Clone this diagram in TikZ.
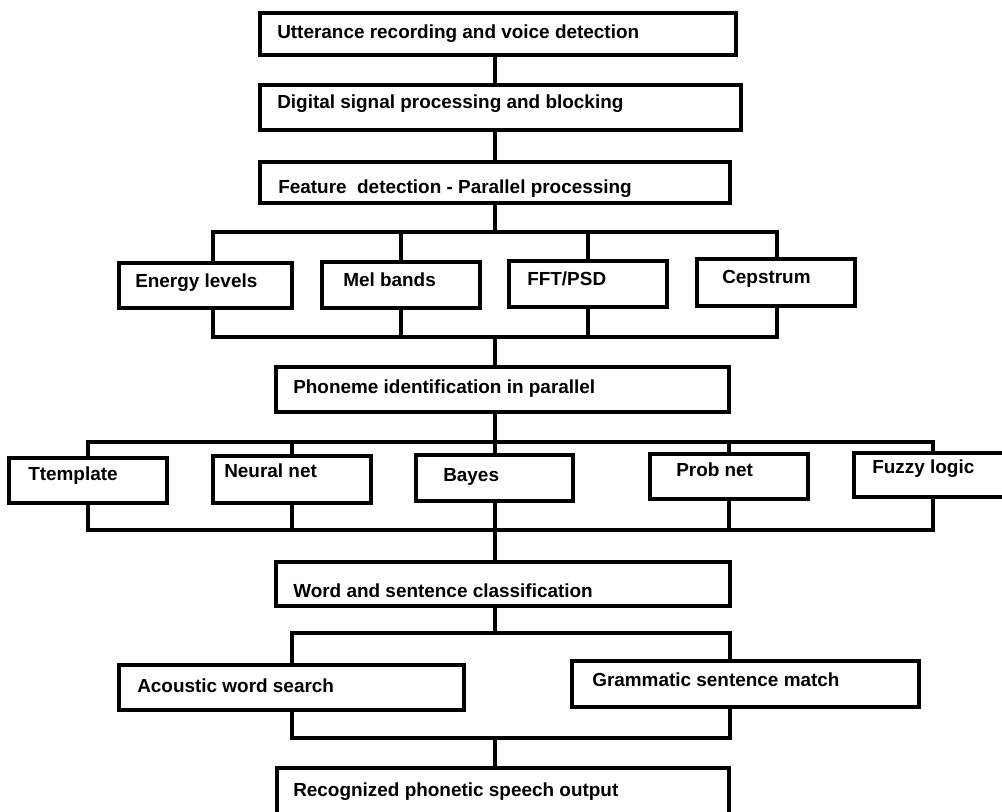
\documentclass[tikz,border=0pt]{standalone}
\usepackage{fontspec}
\setmainfont{Liberation Sans}
\usetikzlibrary{fit}

\tikzset{
  box/.style={draw, line width=2.3pt, fill=white, inner sep=0pt, rectangle},
  lbl/.style={anchor=base west, inner sep=0pt,
              font=\fontsize{14.2}{17}\selectfont\bfseries},
  link/.style={draw, line width=2.3pt, line cap=rect}
}

\begin{document}
\begin{tikzpicture}[x=0.75pt, y=-0.75pt]
  \fill[white] (0,0) rectangle (1002,811);
  \useasboundingbox (0,0) rectangle (1002,811);
  \clip (0,0) rectangle (1002,811);

  % main chain
  \node[box, fit={(260,13) (736,55)}]   (b1) {};
  \node[box, fit={(260,85) (741,130)}]  (b2) {};
  \node[box, fit={(260,162) (730,203)}] (b3) {};
  \node[lbl] (t1) at (277,38)  {Utterance recording and voice detection};
  \node[lbl] (t2) at (277,108) {Digital signal processing and blocking};
  \node[lbl] (t3) at (278,193) {Feature\ \ detection - Parallel processing};

  % feature extractors
  \node[box, fit={(119,263) (292,308)}] (en)  {};
  \node[box, fit={(322,262) (480,308)}] (mel) {};
  \node[box, fit={(509,261) (667,307)}] (fft) {};
  \node[box, fit={(697,259) (855,306)}] (cep) {};
  \node[lbl] (ten)  at (135,287) {Energy levels};
  \node[lbl] (tmel) at (343,286) {Mel bands};
  \node[lbl] (tfft) at (527,285) {FFT/PSD};
  \node[lbl] (tcep) at (722,283) {Cepstrum};

  % phoneme stage
  \node[box, fit={(276,367) (729,412)}] (ph) {};
  \node[lbl] (tph) at (293,393) {Phoneme identification in parallel};

  % classifiers
  \node[box, fit={(9,458) (167,503)}]    (tt) {};
  \node[box, fit={(213,456) (371,503)}]  (nn) {};
  \node[box, fit={(416,455) (573,501)}]  (ba) {};
  \node[box, fit={(650,454) (808,499)}]  (pn) {};
  \node[box, fit={(854,453) (1016,497)}] (fz) {};
  \node[lbl] (ttt) at (28,480)  {Ttemplate};
  \node[lbl] (tnn) at (224,477) {Neural net};
  \node[lbl] (tba) at (443,481) {Bayes};
  \node[lbl] (tpn) at (676,476) {Prob net};
  \node[lbl] (tfz) at (872,473) {Fuzzy logic};

  % word level
  \node[box, fit={(276,562) (730,606)}] (wd) {};
  \node[lbl] (twd) at (293,597) {Word and sentence classification};
  \node[box, fit={(119,665) (464,710)}] (ac) {};
  \node[box, fit={(572,661) (919,707)}] (gr) {};
  \node[lbl] (tac) at (137,692) {Acoustic word search};
  \node[lbl] (tgr) at (592,686) {Grammatic sentence match};

  % output
  \node[box, fit={(277,768) (729,826)}] (rc) {};
  \node[lbl] (trc) at (293,796) {Recognized phonetic speech output};

  % bus coordinates
  \coordinate (spine) at (495,0);
  \coordinate (fL) at (213,232); \coordinate (fR) at (777,232);
  \coordinate (gL) at (213,337); \coordinate (gR) at (777,337);
  \coordinate (pL) at (88,442);  \coordinate (pR) at (933,442);
  \coordinate (qL) at (88,530);  \coordinate (qR) at (933,530);
  \coordinate (wL) at (292,633); \coordinate (wR) at (730,633);
  \coordinate (vL) at (292,738); \coordinate (vR) at (730,738);

  % connectors
  \draw[link] (b1.south -| spine) -- (b2.north -| spine);
  \draw[link] (b2.south -| spine) -- (b3.north -| spine);
  \draw[link] (b3.south -| spine) -- (spine |- fL);

  \draw[link] (en.north -| fL) |- (fR) -- (cep.north -| fR);
  \draw[link] (mel.north) -- (mel.north |- fL);
  \draw[link] (fft.north) -- (fft.north |- fL);
  \draw[link] (en.south -| gL) |- (gR) -- (cep.south -| gR);
  \draw[link] (mel.south) -- (mel.south |- gL);
  \draw[link] (fft.south) -- (fft.south |- gL);
  \draw[link] (spine |- gL) -- (ph.north -| spine);

  \draw[link] (ph.south -| spine) -- (spine |- pL);
  \draw[link] (tt.north -| pL) |- (pR) -- (fz.north -| pR);
  \draw[link] (nn.north) -- (nn.north |- pL);
  \draw[link] (ba.north -| spine) -- (spine |- pL);
  \draw[link] (pn.north) -- (pn.north |- pL);
  \draw[link] (tt.south -| qL) |- (qR) -- (fz.south -| qR);
  \draw[link] (nn.south) -- (nn.south |- qL);
  \draw[link] (ba.south -| spine) -- (spine |- qL);
  \draw[link] (pn.south) -- (pn.south |- qL);
  \draw[link] (spine |- qL) -- (wd.north -| spine);

  \draw[link] (wd.south -| spine) -- (spine |- wL);
  \draw[link] (ac.north -| wL) |- (wR) -- (gr.north -| wR);
  \draw[link] (ac.south -| vL) |- (vR) -- (gr.south -| vR);
  \draw[link] (spine |- vL) -- (rc.north -| spine);
\end{tikzpicture}
\end{document}
